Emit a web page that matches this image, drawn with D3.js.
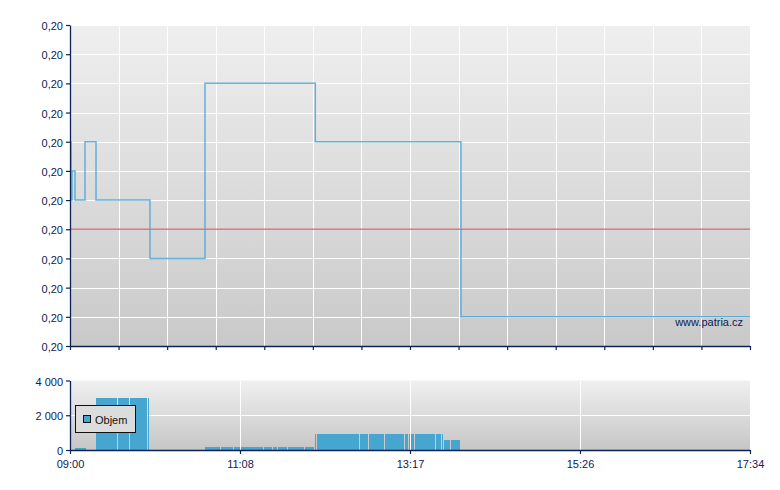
<!DOCTYPE html>
<html><head><meta charset="utf-8">
<script src="https://cdn.jsdelivr.net/npm/d3@7"></script>
<style>
body{margin:0;background:#fff;}
text{font-family:"Liberation Sans",Arial,sans-serif;font-size:11px;}
</style>
</head><body>
<svg id="c" width="780" height="490"></svg>
<script>
// ---- data ----
const priceTimes  = ["09:00:00","09:00:45","09:01:30","09:03:47","09:11:20","09:19:40","10:00:28","10:42:02","12:05:25","13:55:30","17:34:00"];
const priceValues = [0.2007,0.2005,0.2006,0.2005,0.2007,0.2005,0.2003,0.2009,0.2007,0.2001,0.2001];
const referencePrice = 0.2004;
const priceTicks = [0.2000,0.2001,0.2002,0.2003,0.2004,0.2005,0.2006,0.2007,0.2008,0.2009,0.2010,0.2011];

const volStart = ["09:04:00","09:19:40","09:36:00","09:45:30","09:59:00",
  "10:42:02","10:53:46","11:04:20","11:09:24","11:27:00","11:33:40","11:37:27","11:45:00","11:58:00",
  "12:05:11","12:06:56","12:39:12","12:46:10","12:58:20","13:13:00","13:16:05","13:21:00","13:36:48","13:41:20",
  "13:42:51","13:48:08"];
const volEnd = ["09:12:30","09:36:00","09:45:30","09:59:00","10:00:50",
  "10:53:46","11:04:20","11:09:24","11:27:00","11:33:40","11:37:27","11:45:00","11:58:00","12:05:02",
  "12:06:56","12:39:12","12:46:10","12:58:20","13:13:00","13:16:05","13:21:00","13:36:48","13:41:20","13:42:51",
  "13:48:08","13:55:33"];
const volValues = [130,3000,3000,3000,3000,
  150,150,150,150,150,150,150,150,150,
  900,900,900,900,900,900,900,900,900,900,
  600,600];
const volTicks = [0,2000,4000];
const timeLabels = ["09:00","11:08","13:17","15:26","17:34"];
const legendLabel = "Objem";
const watermark = "www.patria.cz";

// ---- setup ----
const parse = s => d3.timeParse("%H:%M:%S")(s.length === 5 ? s + ":00" : s);
const svg = d3.select("#c");
const navy = "#0b2257";
const L = 70, R = 750;
const topY0 = 25, topY1 = 346, botY0 = 380.5, botY1 = 450;

const t0 = parse("09:00"), t1 = parse("17:34");
const x = d3.scaleTime().domain([t0, t1]).range([L, R]);
const y = d3.scaleLinear().domain([priceTicks[0], priceTicks[priceTicks.length-1]]).range([topY1, topY0]);
const yv = d3.scaleLinear().domain([0, 4000]).range([botY1, botY0]);

const defs = svg.append("defs");
function grad(id, c0, c1){
  const g = defs.append("linearGradient").attr("id", id).attr("x1",0).attr("y1",0).attr("x2",0).attr("y2",1);
  g.append("stop").attr("offset","0%").attr("stop-color",c0);
  g.append("stop").attr("offset","100%").attr("stop-color",c1);
}
grad("gTop","#efefef","#c9c9c9");
grad("gBot","#f0f0f0","#c6c6c6");

svg.append("rect").attr("x",L).attr("y",topY0).attr("width",R-L).attr("height",topY1-topY0).attr("fill","url(#gTop)");
svg.append("rect").attr("x",L).attr("y",botY0).attr("width",R-L).attr("height",botY1-botY0).attr("fill","url(#gBot)");

// top grid
const topXTicks = d3.range(15).map(i => new Date(+t0 + i*(t1-t0)/14));
const gTop = svg.append("g").attr("shape-rendering","crispEdges");
gTop.selectAll("line.h").data(priceTicks.slice(1)).join("line")
  .attr("x1",L).attr("x2",R).attr("y1",d=>Math.round(y(d))+0.5).attr("y2",d=>Math.round(y(d))+0.5)
  .attr("stroke","#fff").attr("stroke-width",1);
gTop.selectAll("line.v").data(topXTicks.slice(1)).join("line")
  .attr("x1",d=>Math.round(x(d))+0.5).attr("x2",d=>Math.round(x(d))+0.5).attr("y1",topY0).attr("y2",topY1)
  .attr("stroke","#fff").attr("stroke-width",1);

// reference line
svg.append("line").attr("x1",L).attr("x2",R).attr("y1",y(referencePrice)).attr("y2",y(referencePrice))
  .attr("stroke","#d95c5c").attr("stroke-width",1.4).attr("opacity",0.8);

// price line
const pts = priceTimes.map((t,i)=>[parse(t), priceValues[i]]);
svg.append("path").datum(pts)
  .attr("d", d3.line().x(d=>x(d[0])).y(d=>y(d[1])).curve(d3.curveStepAfter))
  .attr("fill","none").attr("stroke","#4ea6d6").attr("stroke-width",1.5).attr("opacity",0.85);

// watermark
svg.append("text").attr("x",743).attr("y",326).attr("text-anchor","end").attr("fill",navy).text(watermark);

// top axes
const fmtPrice = v => d3.format(".2f")(v).replace(".",",");
const axL = svg.append("g").attr("transform",`translate(${L},0)`)
  .call(d3.axisLeft(y).tickValues(priceTicks).tickFormat(fmtPrice).tickSize(4).tickSizeOuter(0).tickPadding(3));
const axB = svg.append("g").attr("transform",`translate(0,${topY1})`)
  .call(d3.axisBottom(x).tickValues(topXTicks).tickFormat("").tickSize(4).tickSizeOuter(0));

// bottom grid horizontal (under bars)
svg.append("g").attr("shape-rendering","crispEdges").selectAll("line").data([2000]).join("line")
  .attr("x1",L).attr("x2",R).attr("y1",d=>Math.round(yv(d))+0.5).attr("y2",d=>Math.round(yv(d))+0.5)
  .attr("stroke","#fff");

// volume bars
const bars = volValues.map((v,i)=>({s:parse(volStart[i]), e:parse(volEnd[i]), v}));
svg.append("g").attr("shape-rendering","crispEdges").selectAll("rect").data(bars).join("rect")
  .attr("x", d=>Math.round(x(d.s)))
  .attr("width", d=>Math.max(1, Math.round(x(d.e)) - Math.round(x(d.s)) - 1))
  .attr("y", d=>Math.round(yv(d.v)))
  .attr("height", d=>botY1 - Math.round(yv(d.v)))
  .attr("fill","#46a6cf");

// bottom vertical grid (over bars)
const botXTicks = d3.range(5).map(i => new Date(+t0 + i*(t1-t0)/4));
svg.append("g").attr("shape-rendering","crispEdges").selectAll("line").data(botXTicks.slice(1,4)).join("line")
  .attr("x1",d=>Math.round(x(d))+0.5).attr("x2",d=>Math.round(x(d))+0.5).attr("y1",botY0).attr("y2",botY1)
  .attr("stroke","#fff");

// legend
const lg = svg.append("g");
lg.append("rect").attr("x",75.5).attr("y",405.5).attr("width",60).attr("height",27)
  .attr("fill","#dcdcdc").attr("stroke","#111").attr("stroke-width",1);
lg.append("rect").attr("x",83.5).attr("y",415.5).attr("width",7).attr("height",7)
  .attr("fill","#46a6cf").attr("stroke","#111").attr("stroke-width",1);
lg.append("text").attr("x",95).attr("y",424).attr("fill","#111").text(legendLabel);

// bottom axes
const volLoc = d3.formatLocale({decimal:",", thousands:"\u00a0", grouping:[3], currency:["",""]});
const fmtVol = volLoc.format(",d");
const axLV = svg.append("g").attr("transform",`translate(${L},0)`)
  .call(d3.axisLeft(yv).tickValues(volTicks).tickFormat(fmtVol).tickSize(4).tickSizeOuter(0).tickPadding(3));
const axBV = svg.append("g").attr("transform",`translate(0,${botY1})`)
  .call(d3.axisBottom(x).tickValues(botXTicks).tickFormat((d,i)=>timeLabels[i]).tickSize(4).tickSizeOuter(0).tickPadding(6));

[axL, axB, axLV, axBV].forEach(g=>{
  g.selectAll("path.domain").attr("stroke",navy).attr("stroke-width",1.3);
  g.selectAll(".tick line").attr("stroke",navy).attr("stroke-width",1.2);
  g.selectAll(".tick text").attr("fill",navy).style("font-family","'Liberation Sans',Arial,sans-serif").style("font-size","11px");
});
[axL, axLV].forEach(g=> g.selectAll(".tick text").attr("dy","0.42em"));
</script>
</body></html>
